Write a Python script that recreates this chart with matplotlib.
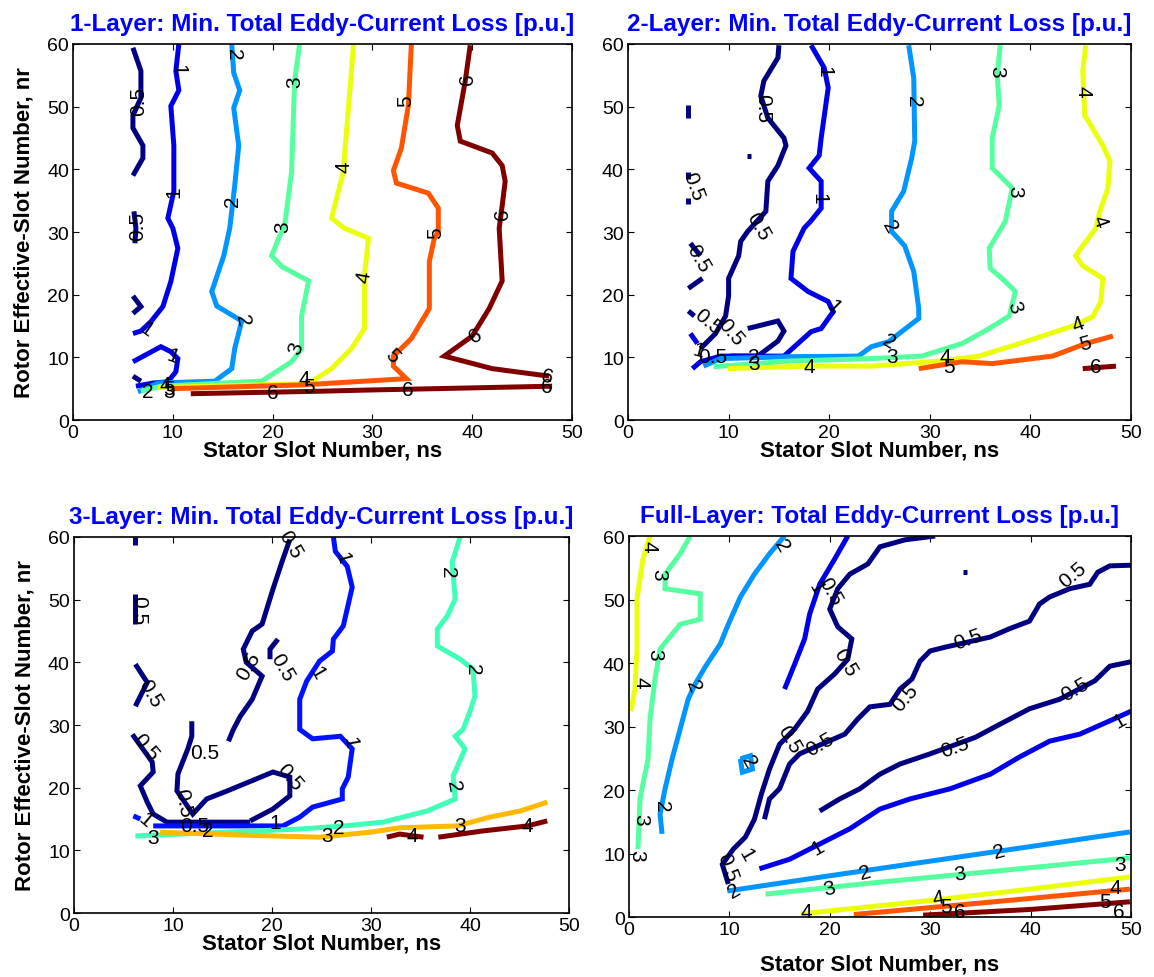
import numpy as np
import matplotlib.pyplot as plt
from matplotlib.colors import Normalize

plt.rcParams['font.family'] = ['Liberation Sans', 'DejaVu Sans']

# contour polylines: (level, ns values, nr values)
one_layer_lines = [
    (0.5, [6.0, 6.8, 6.8, 6.0, 6.0, 7.0, 7.0, 6.0], [59.4, 55.7, 51.4, 48.6, 46.6, 43.8, 41.8, 39.0]),
    (0.5, [6.1, 6.3, 6.2], [33.3, 30.6, 28.2]),
    (0.5, [6.0, 6.8, 6.0], [19.8, 18.1, 17.0]),
    (0.5, [6.0, 6.8], [7.0, 6.2]),
    (1, [10.6, 10.3, 10.6, 9.8, 10.1, 10.1, 9.5, 10.0, 10.5, 9.8, 9.0, 7.8, 6.8, 6.0],
        [60, 55.7, 52.6, 50.1, 43.8, 36.5, 32.2, 30.6, 27.4, 22.1, 18.1, 15.7, 14.2, 13.8]),
    (1, [6.0, 8.8, 9.8, 10.5, 10.3, 9.5, 8.0, 6.3], [9.3, 11.7, 10.9, 9.8, 7.7, 6.1, 5.9, 5.4]),
    (2, [15.9, 16.1, 16.7, 16.1, 16.6, 16.2, 15.9, 15.7, 15.1, 13.9, 14.4, 16.9, 16.2, 15.9, 14.2, 8.5, 6.5],
        [60, 55.4, 52.6, 49.8, 43.8, 37.4, 33.3, 30.6, 26.2, 20.5, 18.2, 15.8, 11.4, 8.2, 6.2, 5.9, 4.5]),
    (3, [22.7, 22.2, 21.9, 21.2, 20.6, 19.9, 20.9, 23.6, 22.9, 22.9, 21.9, 18.9, 8.8, 6.8],
        [60, 54.1, 39.7, 31.0, 29.0, 26.2, 24.5, 22.2, 16.6, 11.4, 9.3, 6.2, 5.4, 4.6]),
    (4, [28.1, 27.9, 27.2, 27.1, 25.9, 27.2, 29.6, 29.2, 29.2, 27.9, 25.9, 23.6, 8.5],
        [60, 55.7, 42.2, 39.7, 32.2, 30.6, 29.0, 23.0, 14.6, 11.4, 8.2, 5.8, 5.2]),
    (5, [33.9, 33.6, 32.9, 32.1, 32.4, 35.6, 36.6, 36.6, 36.2, 35.7, 35.7, 33.9, 32.1, 32.1, 33.4, 22.9, 9.8],
        [60, 50.2, 43.4, 39.8, 37.8, 36.2, 33.8, 30.1, 29.0, 25.3, 17.8, 13.0, 10.2, 8.6, 6.6, 5.6, 5.0]),
    (6, [39.8, 39.3, 38.5, 38.8, 42.0, 43.0, 43.3, 43.0, 42.7, 43.0, 41.7, 40.0, 37.2, 42.0, 47.7],
        [59.8, 54.1, 47.0, 44.5, 42.6, 40.6, 38.1, 34.2, 30.6, 22.2, 17.8, 13.4, 10.2, 8.2, 7.0]),
    (6, [11.8, 24.9, 29.9, 36.2, 48.0], [4.2, 4.6, 4.8, 5.0, 5.4]),
]
one_layer_labels = [
    ('0.5', 6.6, 51, 90), ('0.5', 6.5, 31, 90), ('1', 10.5, 56, -90), ('1', 10.1, 36.5, 90),
    ('1', 7.3, 14.5, -35), ('1', 10.0, 10.3, -20), ('2', 16.1, 58.5, -90), ('2', 16.0, 35, 90),
    ('2', 17.0, 16, -80), ('3', 22.2, 54, 90), ('3', 21.0, 31, 90), ('3', 22.3, 11.5, 70),
    ('4', 27.2, 40.5, 90), ('4', 29.2, 23, 80), ('5', 33.3, 51, 90), ('5', 36.3, 30, 90),
    ('5', 32.0, 10.3, -45), ('6', 39.5, 54.5, 90), ('6', 43.0, 33, 90), ('6', 40.3, 13.5, 35),
    ('6', 47.5, 7.0, -15), ('6', 47.5, 5.3, 0), ('6', 33.5, 4.8, 0), ('6', 20.0, 4.4, 0),
    ('2', 7.5, 4.5, 0), ('4', 9.2, 5.6, 0), ('5', 9.6, 5.0, 0), ('3', 9.6, 4.5, 0),
    ('4', 23.2, 6.6, 0), ('5', 23.6, 5.3, 0),
]

two_layer_lines = [
    (0.5, [15.0, 14.9, 13.5, 13.2, 13.9, 15.5, 15.7, 14.9, 13.9, 13.7, 11.9, 11.2, 11.0, 10.0, 10.0, 9.7, 8.7, 7.7, 7.2],
          [59.8, 57.8, 54.1, 51.7, 48.2, 45.0, 43.8, 40.6, 38.1, 33.3, 30.1, 28.5, 26.2, 22.6, 19.8, 16.6, 13.8, 12.2, 11.4]),
    (0.5, [11.9, 14.9, 15.5, 14.9, 12.9, 10.2], [14.6, 15.8, 14.2, 12.6, 10.2, 10.2]),
    (0.5, [6.0, 6.0], [50.2, 48.2]),
    (0.5, [11.8, 12.2], [42.2, 42.2]),
    (0.5, [6.0, 6.0], [39.5, 38.5]),
    (0.5, [6.0, 6.0], [35.4, 34.4]),
    (0.5, [6.2, 7.2], [28.2, 26.2]),
    (0.5, [7.4, 6.0], [22.6, 21.0]),
    (0.5, [6.0, 6.6], [17.4, 16.6]),
    (1, [6.2, 6.9], [13.8, 12.2]),
    (1, [18.2, 19.5, 19.9, 19.2, 19.0, 18.0, 19.2, 19.2, 18.2, 17.5, 16.4, 16.2, 17.9, 19.9, 20.4, 19.2, 18.2, 15.5, 9.2, 7.2, 6.4],
        [59.8, 56.2, 53.0, 45.0, 42.2, 40.2, 38.1, 33.8, 31.8, 30.6, 26.9, 22.6, 20.5, 18.9, 17.3, 14.6, 14.1, 10.2, 10.2, 9.3, 8.2]),
    (2, [27.9, 28.4, 28.5, 28.2, 27.4, 26.2, 26.2, 27.5, 28.4, 28.9, 28.9, 25.9, 24.2, 22.9, 15.9, 9.2, 7.5],
        [59.8, 54.6, 44.5, 41.8, 36.5, 33.3, 30.1, 27.8, 23.7, 17.8, 16.2, 12.5, 11.7, 10.2, 10.1, 9.8, 8.6]),
    (3, [37.0, 36.7, 36.9, 36.2, 36.2, 38.2, 37.5, 36.5, 35.9, 36.0, 37.5, 38.5, 37.9, 35.9, 33.2, 29.2, 24.2, 15.9, 8.5],
        [59.8, 55.0, 50.2, 45.0, 40.2, 37.0, 31.7, 29.0, 27.4, 24.2, 22.1, 20.5, 16.6, 14.6, 12.2, 10.2, 9.8, 9.4, 8.5]),
    (4, [45.5, 45.2, 45.4, 47.2, 47.9, 47.7, 46.9, 46.5, 45.2, 44.5, 45.2, 47.2, 47.0, 46.2, 44.2, 39.5, 34.9, 30.9, 24.2, 17.9, 9.9],
        [59.8, 55.7, 48.6, 43.8, 41.3, 37.0, 33.3, 30.6, 27.8, 26.2, 24.6, 22.6, 18.9, 16.5, 15.0, 12.5, 10.2, 9.4, 8.6, 8.6, 8.2]),
    (5, [48.2, 45.5, 42.2, 36.2, 33.2, 28.9], [13.4, 12.2, 10.2, 9.0, 9.3, 8.2]),
    (6, [45.2, 48.5], [8.2, 8.6]),
]
two_layer_labels = [
    ('0.5', 13.4, 49.8, -90), ('0.5', 12.9, 31.0, -60), ('0.5', 6.5, 37.4, -70), ('0.5', 7.0, 25.8, -60),
    ('0.5', 7.9, 15.7, -40), ('0.5', 10.2, 14.1, -50), ('0.5', 8.4, 10.2, 0), ('1', 7.0, 11.2, -15),
    ('1', 19.5, 55.7, -90), ('1', 19.0, 35.4, -90), ('1', 20.4, 18.2, -45),
    ('2', 28.4, 51.0, -90), ('2', 26.0, 30.9, -60), ('2', 25.9, 12.6, -30), ('2', 12.5, 10.2, 0),
    ('3', 36.7, 55.7, -90), ('3', 38.4, 36.5, -90), ('3', 38.4, 18.1, -70), ('3', 26.2, 10.1, 0),
    ('3', 12.5, 9.0, 0), ('4', 45.2, 52.6, -90), ('4', 46.9, 31.8, -70), ('4', 44.7, 15.4, 20),
    ('4', 31.5, 10.1, 0), ('4', 18.0, 8.6, 0), ('5', 45.5, 12.2, 15), ('5', 31.9, 8.6, 0),
    ('6', 46.5, 8.6, 0),
]

three_layer_lines = [
    (0.5, [6.2, 6.2], [60.0, 58.8]),
    (0.5, [6.2, 6.2], [50.9, 46.1]),
    (0.5, [6.2, 7.4, 6.2], [39.7, 36.8, 33.0]),
    (0.5, [5.9, 7.9, 8.0, 6.7, 7.4, 8.0, 9.4, 17.8], [28.5, 24.1, 22.5, 20.3, 17.7, 15.8, 14.5, 14.5]),
    (0.5, [11.9, 11.9, 11.5, 10.5, 10.4, 12.0, 13.4, 15.5, 20.1, 21.8, 21.8, 20.1, 17.8],
          [30.6, 28.2, 26.2, 22.2, 19.5, 15.8, 18.2, 19.5, 22.5, 21.7, 18.7, 16.6, 14.7]),
    (0.5, [21.8, 21.0, 20.1, 19.0, 18.0, 17.1, 17.4, 19.0, 18.0, 16.8, 16.1, 15.6],
          [59.6, 56.0, 51.7, 46.1, 45.0, 42.1, 40.0, 37.8, 34.1, 31.4, 29.3, 27.4]),
    (0.5, [20.6, 19.8, 19.8], [43.7, 42.1, 40.5]),
    (1, [26.2, 26.4, 27.6, 28.1, 27.2, 26.2, 26.1, 24.8, 23.5, 22.8, 22.8, 24.1, 26.9, 28.1, 27.7, 27.1, 27.1, 24.1, 22.8, 21.1, 8.0],
        [60.0, 57.7, 55.3, 52.0, 45.8, 43.7, 41.8, 40.2, 37.0, 34.1, 29.3, 27.8, 28.2, 26.2, 21.7, 19.8, 18.2, 16.9, 15.3, 13.9, 13.9]),
    (1, [6.0, 6.7], [15.5, 15.0]),
    (2, [39.0, 38.2, 38.5, 37.7, 36.7, 36.7, 39.0, 40.3, 40.5, 40.0, 39.3, 38.5, 39.5, 38.3, 38.5, 35.7, 31.2, 27.2, 22.8, 6.2],
        [60.0, 56.0, 50.1, 47.4, 45.3, 42.6, 40.5, 38.9, 34.6, 32.2, 29.3, 28.2, 26.2, 21.9, 18.2, 16.3, 14.5, 13.9, 13.4, 12.3]),
    (3, [8.7, 17.8, 24.8, 29.9, 32.9, 38.7, 42.0, 45.1, 47.8], [12.9, 12.4, 12.1, 12.9, 13.6, 13.9, 15.3, 16.3, 17.7]),
    (4, [31.6, 32.9, 35.3], [12.1, 12.6, 12.1]),
    (4, [36.8, 41.3, 45.8, 47.8], [12.1, 13.1, 13.9, 14.7]),
]
three_layer_labels = [
    ('0.5', 6.5, 48.5, -90), ('0.5', 7.7, 35.2, -60), ('0.5', 21.8, 58.9, -60), ('0.5', 17.6, 39.4, 60),
    ('0.5', 21.0, 39.2, -60), ('0.5', 7.2, 26.5, -50), ('0.5', 13.2, 25.6, 0), ('0.5', 11.0, 17.7, -80),
    ('0.5', 21.8, 21.7, -50), ('0.5', 12.2, 13.9, 0), ('1', 27.1, 56.8, -75), ('1', 24.5, 38.4, -60),
    ('1', 27.9, 27.3, -80), ('1', 20.3, 14.5, 0), ('1', 7.2, 15.0, -40), ('2', 37.7, 54.5, -90),
    ('2', 40.3, 38.9, -90), ('2', 38.3, 20.3, -80), ('2', 26.7, 13.7, 0), ('2', 13.5, 13.2, 0),
    ('3', 8.0, 12.1, 0), ('3', 25.6, 12.3, 0), ('3', 39.0, 13.9, 0), ('4', 34.2, 12.3, 0),
    ('4', 45.8, 13.9, 0),
]

full_layer_lines = [
    (0.5, [50.0, 47.9, 46.7, 45.9, 43.9, 41.9, 40.9, 39.9, 37.9, 36.0, 31.5, 30.0, 29.0, 28.2, 27.0, 26.0, 24.0,
           22.8, 21.5, 17.0, 16.0, 15.0, 14.0, 13.5],
          [55.4, 55.3, 54.3, 52.4, 51.7, 50.4, 49.3, 46.6, 45.4, 44.1, 42.5, 41.9, 40.3, 37.5, 35.9, 33.5, 33.1,
           31.2, 28.8, 25.7, 24.1, 20.2, 18.6, 15.4]),
    (0.5, [50.0, 47.9, 46.4, 42.9, 39.9, 37.0, 34.5, 30.0, 27.0, 25.0, 23.0, 21.0, 19.0],
          [40.2, 39.5, 37.2, 34.3, 32.8, 30.4, 28.3, 25.7, 24.1, 22.5, 20.2, 18.6, 16.7]),
    (0.5, [30.5, 27.5, 25.0, 23.8, 22.0, 20.8, 20.0, 20.8, 22.2, 21.8, 20.5, 18.8, 17.8, 16.5, 15.0, 14.0,
           13.2, 12.5, 11.6, 10.4, 9.3, 9.9],
          [60.0, 59.4, 58.3, 55.6, 54.0, 51.7, 48.5, 45.7, 43.8, 40.6, 38.3, 35.9, 32.4, 29.6, 27.2, 23.3,
           19.4, 15.4, 12.6, 10.7, 8.3, 5.2]),
    (0.5, [33.3, 33.7], [54.3, 54.3]),
    (1, [50.0, 47.9, 44.9, 41.9, 38.9, 36.0, 32.0, 28.0, 25.0, 22.0, 19.0, 16.0, 13.0],
        [32.4, 30.9, 28.8, 27.7, 25.2, 22.5, 20.2, 18.6, 17.0, 13.9, 11.5, 9.1, 7.6]),
    (1, [21.8, 20.5, 19.0, 18.0, 17.5, 16.5, 15.5], [60.0, 56.4, 52.4, 47.7, 43.8, 39.8, 35.9]),
    (2, [15.5, 14.0, 12.5, 11.1, 9.9, 9.1, 7.6, 6.6, 5.9, 5.1, 4.3, 3.6, 3.1, 3.3],
        [60.0, 57.2, 54.0, 50.4, 46.1, 43.0, 39.4, 36.7, 34.3, 29.6, 24.9, 20.2, 16.2, 13.1]),
    (2, [11.1, 12.1, 12.3, 11.3, 11.1], [24.9, 25.4, 23.3, 22.8, 24.9]),
    (3, [6.1, 5.1, 3.6, 3.6, 7.1, 7.1, 5.1, 3.1, 2.6, 2.1, 1.9, 1.1, 0.9],
        [60, 57.2, 54.0, 51.7, 50.9, 46.9, 46.1, 42.2, 37.5, 31.2, 24.9, 18.6, 10.7]),
    (4, [2.1, 1.4, 0.8, 0.8, 0.6, 0.2], [60, 56.4, 50.1, 42.2, 35.9, 32.4]),
    (2, [9.8, 20, 30, 40, 49.9], [4.1, 6.5, 8.8, 11.1, 13.4]),
    (3, [13.6, 25, 35, 49.9], [3.6, 5.5, 7.0, 9.3]),
    (4, [17.1, 30, 40, 49.9], [0.5, 2.6, 4.4, 6.3]),
    (5, [22.4, 35, 49.9], [0.4, 2.2, 4.4]),
    (6, [29.3, 40, 49.9], [0.3, 1.2, 2.4]),
]
full_layer_labels = [
    ('2', 15.2, 58.5, -60), ('3', 3.0, 54, -90), ('4', 2.0, 58.5, -90), ('4', 1.2, 37, -90),
    ('3', 2.6, 41.5, -90), ('2', 6.4, 36.5, -70), ('2', 11.9, 24.6, -60), ('3', 1.2, 15.5, -90),
    ('2', 3.2, 17.5, -90), ('3', 0.8, 9.8, -90),
    ('0.5', 44.2, 54.0, 40), ('0.5', 33.8, 43.8, 20), ('0.5', 27.5, 34.6, 50), ('0.5', 19.0, 27.2, 30),
    ('0.5', 44.4, 35.9, 30), ('0.5', 32.5, 26.8, 20), ('0.5', 20.0, 51.3, -60), ('0.5', 21.5, 40.2, -60),
    ('0.5', 16.0, 28.0, -60), ('0.5', 9.8, 7.9, -70),
    ('1', 48.9, 30.9, 30), ('1', 18.8, 11.0, 30), ('1', 18.6, 52.0, -60), ('1', 11.7, 9.9, -60),
    ('2', 10.5, 4.2, 30), ('2', 23.5, 7.1, 15), ('2', 36.9, 10.4, 15),
    ('3', 20.0, 4.6, 15), ('3', 33.0, 6.8, 10), ('3', 48.9, 8.3, 0),
    ('4', 17.7, 0.9, 0), ('4', 30.8, 3.1, 10), ('4', 48.4, 4.6, 0),
    ('5', 31.6, 1.6, 0), ('5', 47.4, 2.4, 0), ('6', 33.0, 0.9, 0), ('6', 48.8, 0.8, 0),
]

panels = [
    ('1-Layer: Min. Total Eddy-Current Loss [p.u.]', one_layer_lines, one_layer_labels, 6, [0.0633, 0.5695, 0.4324, 0.3845], -1),
    ('2-Layer: Min. Total Eddy-Current Loss [p.u.]', two_layer_lines, two_layer_labels, 6, [0.5442, 0.5695, 0.4359, 0.3845], -1),
    ('3-Layer: Min. Total Eddy-Current Loss [p.u.]', three_layer_lines, three_layer_labels, 4, [0.0641, 0.0654, 0.4290, 0.3845], -1),
    ('Full-Layer: Total Eddy-Current Loss [p.u.]', full_layer_lines, full_layer_labels, 6, [0.5450, 0.0613, 0.4350, 0.3896], 11),
]

fig = plt.figure(figsize=(11.54, 9.78), dpi=100)
cmap = plt.cm.jet

for i, (title, lines, labels, vmax, pos, xpad) in enumerate(panels):
    ax = fig.add_axes(pos)
    norm = Normalize(0.5, vmax)
    for level, xs, ys in lines:
        ax.plot(xs, ys, color=cmap(norm(level)), lw=3.6, solid_capstyle='butt', solid_joinstyle='miter')
    for txt, x, y, rot in labels:
        ax.text(x, y, txt, rotation=rot, ha='center', va='center', fontsize=15, rotation_mode='anchor')
    ax.set_xlim(0, 50)
    ax.set_ylim(0, 60)
    ax.set_xticks(np.arange(0, 51, 10))
    ax.set_yticks(np.arange(0, 61, 10))
    ax.tick_params(direction='in', top=True, right=True, labelsize=14, length=4, pad=3)
    for s in ax.spines.values():
        s.set_linewidth(1.2)
    ax.set_xlabel('Stator Slot Number, ns', fontsize=16, fontweight='bold', labelpad=xpad)
    if i % 2 == 0:
        ax.set_ylabel('Rotor Effective-Slot Number, nr', fontsize=16, fontweight='bold', labelpad=9)
    ax.set_title(title, fontsize=17.5, fontweight='bold', color='#0000ff', pad=10)

fig.savefig('out.png', dpi=100)
